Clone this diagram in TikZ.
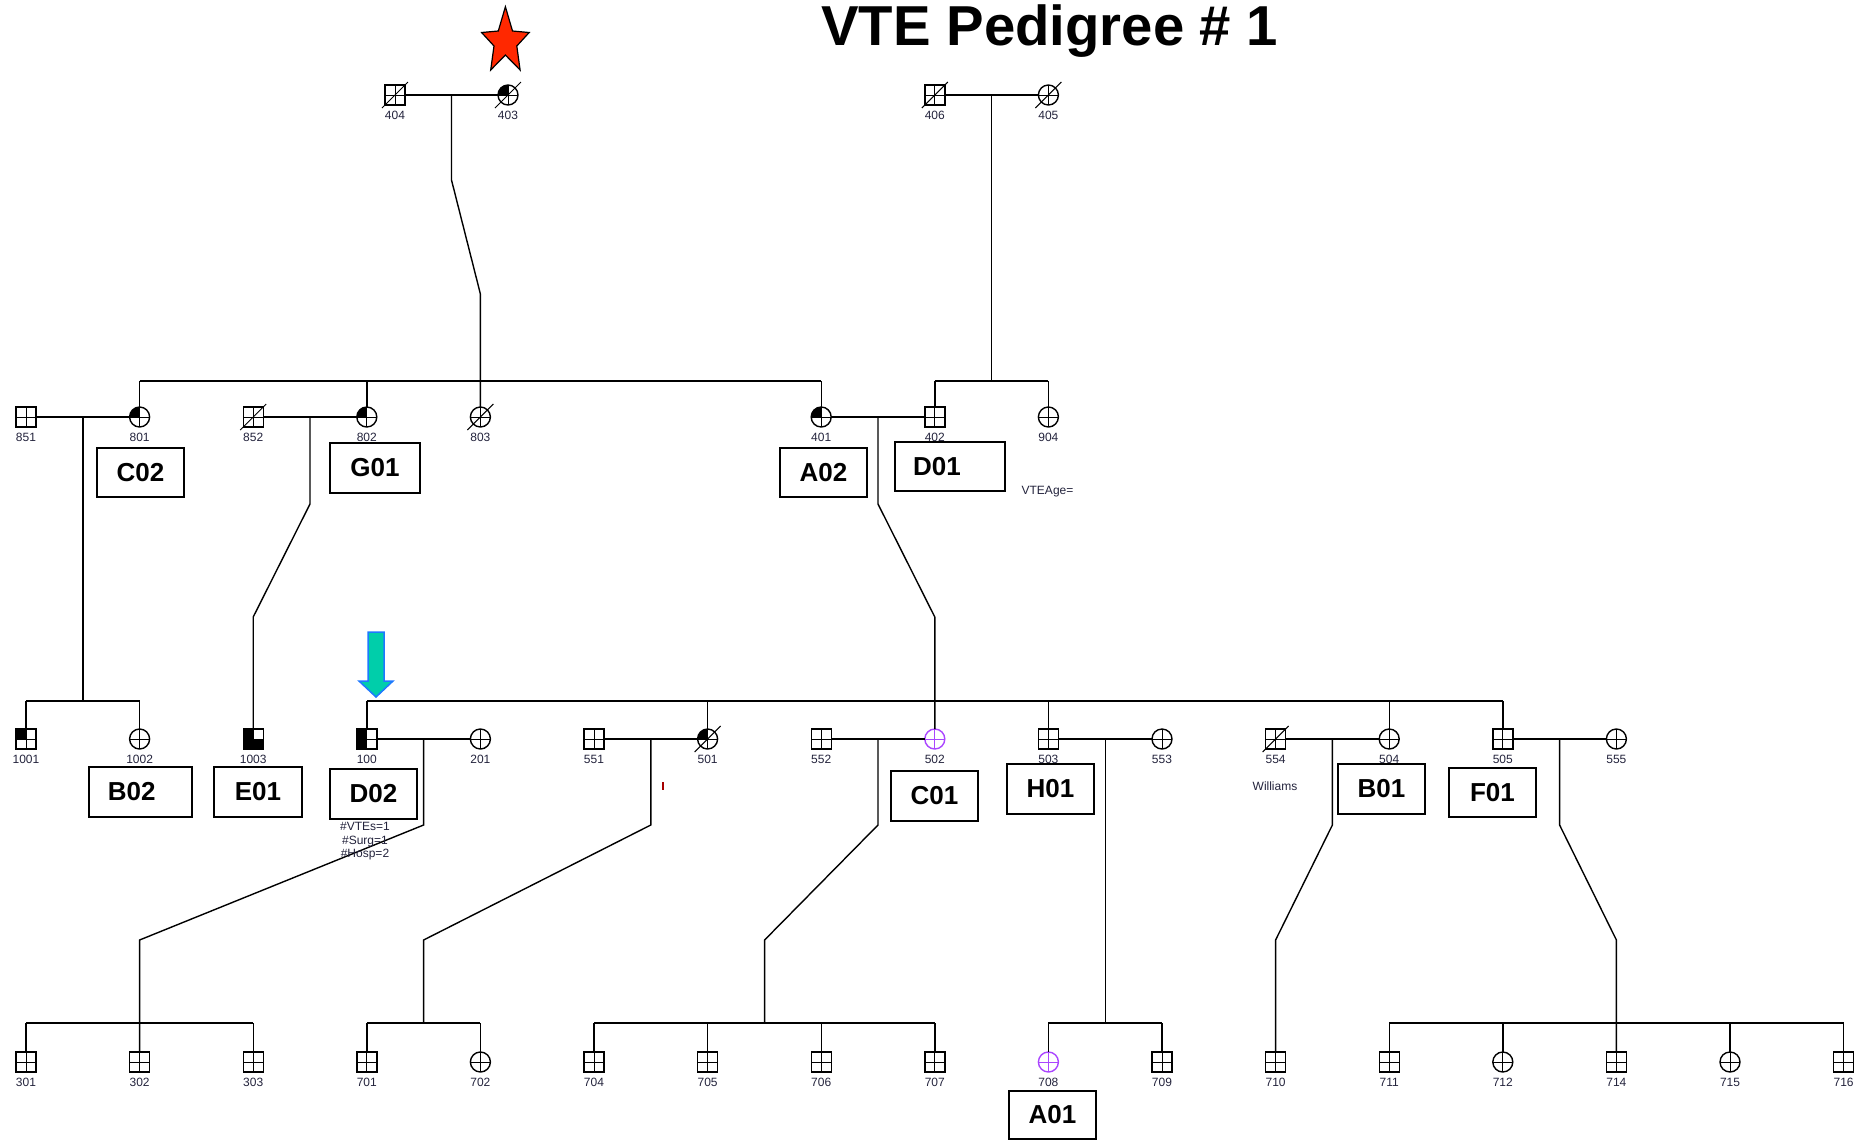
\documentclass[tikz,border=0pt]{standalone}
\usepackage{fontspec}
\setmainfont{Liberation Sans}
\definecolor{pur}{RGB}{170,70,255}
\definecolor{starred}{RGB}{255,40,0}
\definecolor{arrowfill}{RGB}{0,206,170}
\definecolor{arrowline}{RGB}{30,120,255}
\definecolor{idcol}{RGB}{35,35,60}
\newcommand\qTL{\fill (path picture bounding box.center) rectangle (path picture bounding box.north west);}
\newcommand\qBL{\fill (path picture bounding box.center) rectangle (path picture bounding box.south west);}
\newcommand\qBR{\fill (path picture bounding box.center) rectangle (path picture bounding box.south east);}
\newcommand\crossin[1]{\draw[line width=0.5pt,#1] (path picture bounding box.north) -- (path picture bounding box.south) (path picture bounding box.west) -- (path picture bounding box.east);}
\newcommand\pedsym[4]{\node[#1,label={[idl]below:#2}] (n#2) at (#3,#4) {};}
\newcommand\dec[1]{\draw[line width=0.5pt] ([shift={(-6.5pt,-6.5pt)}]#1.center) -- ([shift={(6.5pt,6.5pt)}]#1.center);}
\begin{document}
\begin{tikzpicture}[x=0.5pt,y=-0.5pt,
  label distance=2.8pt,
  sym/.style={draw, line width=0.7pt, minimum size=10pt, inner sep=0pt, outer sep=0pt},
  male/.style={sym, rectangle, path picture={#1\crossin{black}}},
  male/.default={},
  female/.style={sym, circle, path picture={#1\crossin{black}}},
  female/.default={},
  femalep/.style={sym, circle, draw=pur, path picture={\crossin{pur}}},
  idl/.style={font=\fontsize{6}{6}\selectfont, text=idcol, inner sep=0pt},
  ped/.style={line width=0.7pt},
  box/.style={draw, line width=0.8pt, minimum width=43.7pt, minimum height=25.5pt, inner sep=0pt, font=\fontsize{13}{13}\selectfont\bfseries},
  small/.style={font=\fontsize{6}{6.75}\selectfont, text=idcol, inner sep=0pt, align=center}]
\useasboundingbox (0,0) rectangle (1860,1142);

% title
\node[font=\fontsize{28.15}{30}\selectfont\bfseries, anchor=base west, inner sep=0pt] (title) at (821,45) {VTE Pedigree \# 1};

% star
\draw[fill=starred, line width=0.6pt, line join=miter]
  (505.4,6.7) -- (512.5,31) -- (529.2,32.5) -- (516.8,46) -- (520.1,70) -- (505.4,55) -- (490.7,70) -- (494,46) -- (481.6,32.5) -- (498.3,31) -- cycle;

% generation 1
\pedsym{male}{404}{395}{95}
\pedsym{female={\qTL}}{403}{508}{95}
\pedsym{male}{406}{934.8}{95}
\pedsym{female}{405}{1048.4}{95}
\dec{n404}\dec{n403}\dec{n406}\dec{n405}

% generation 2
\pedsym{male}{851}{26}{417}
\pedsym{female={\qTL}}{801}{139.6}{417}
\pedsym{male}{852}{253.2}{417}
\pedsym{female={\qTL}}{802}{366.8}{417}
\pedsym{female}{803}{480.4}{417}
\pedsym{female={\qTL}}{401}{821.2}{417}
\pedsym{male}{402}{934.8}{417}
\pedsym{female}{904}{1048.4}{417}
\dec{n852}\dec{n803}

% generation 3
\pedsym{male={\qTL}}{1001}{26}{739}
\pedsym{female}{1002}{139.6}{739}
\pedsym{male={\qTL\qBL\qBR}}{1003}{253.2}{739}
\pedsym{male={\qTL\qBL}}{100}{366.8}{739}
\pedsym{female}{201}{480.4}{739}
\pedsym{male}{551}{594}{739}
\pedsym{female={\qTL}}{501}{707.6}{739}
\pedsym{male}{552}{821.2}{739}
\pedsym{femalep}{502}{934.8}{739}
\pedsym{male}{503}{1048.4}{739}
\pedsym{female}{553}{1162}{739}
\pedsym{male}{554}{1275.6}{739}
\pedsym{female}{504}{1389.2}{739}
\pedsym{male}{505}{1502.8}{739}
\pedsym{female}{555}{1616.4}{739}
\dec{n501}\dec{n554}

% generation 4
\pedsym{male}{301}{26}{1062}
\pedsym{male}{302}{139.6}{1062}
\pedsym{male}{303}{253.2}{1062}
\pedsym{male}{701}{366.8}{1062}
\pedsym{female}{702}{480.4}{1062}
\pedsym{male}{704}{594}{1062}
\pedsym{male}{705}{707.6}{1062}
\pedsym{male}{706}{821.2}{1062}
\pedsym{male}{707}{934.8}{1062}
\pedsym{femalep}{708}{1048.4}{1062}
\pedsym{male}{709}{1162}{1062}
\pedsym{male}{710}{1275.6}{1062}
\pedsym{male}{711}{1389.2}{1062}
\pedsym{female}{712}{1502.8}{1062}
\pedsym{male}{714}{1616.4}{1062}
\pedsym{female}{715}{1730}{1062}
\pedsym{male}{716}{1843.6}{1062}

% sibship levels
\coordinate (sibA) at (0,381);
\coordinate (sibB) at (0,701);
\coordinate (sibC) at (0,1023);

% gen 1 connectors
\draw[ped] (n404) -- (n403);
\coordinate (j1) at (451.5,95);
\coordinate (j1a) at (451.5,180);
\coordinate (j1b) at (480.4,294);
\draw[ped] (j1) -- (j1a) -- (j1b) -- (n803);
\draw[ped] (n801 |- sibA) -- (n401 |- sibA);
\foreach \n in {801,802,401} \draw[ped] (n\n) -- (n\n |- sibA);

\draw[ped] (n406) -- (n405);
\coordinate (j2) at (991.6,95);
\draw[ped] (j2) -- (j2 |- sibA);
\draw[ped] (n402 |- sibA) -- (n904 |- sibA);
\foreach \n in {402,904} \draw[ped] (n\n) -- (n\n |- sibA);

% gen 2 connectors
\draw[ped] (n851) -- (n801);
\coordinate (j3) at (82.8,417);
\draw[ped] (j3) -- (j3 |- sibB);
\draw[ped] (n1001 |- sibB) -- (n1002 |- sibB);
\foreach \n in {1001,1002} \draw[ped] (n\n) -- (n\n |- sibB);

\draw[ped] (n852) -- (n802);
\coordinate (j4) at (310,417);
\coordinate (j4a) at (310,504);
\coordinate (j4b) at (253.2,617);
\draw[ped] (j4) -- (j4a) -- (j4b) -- (n1003);

\draw[ped] (n401) -- (n402);
\coordinate (j5) at (878,417);
\coordinate (j5a) at (878,504);
\coordinate (j5b) at (934.8,617);
\draw[ped] (j5) -- (j5a) -- (j5b) -- (n502);
\draw[ped] (n100 |- sibB) -- (n505 |- sibB);
\foreach \n in {100,501,503,504,505} \draw[ped] (n\n) -- (n\n |- sibB);

% gen 3 connectors
\draw[ped] (n100) -- (n201);
\coordinate (j6) at (423.6,739);
\coordinate (j6a) at (423.6,825);
\coordinate (j6b) at (139.6,940);
\draw[ped] (j6) -- (j6a) -- (j6b) -- (n302);
\draw[ped] (n301 |- sibC) -- (n303 |- sibC);
\foreach \n in {301,303} \draw[ped] (n\n) -- (n\n |- sibC);

\draw[ped] (n551) -- (n501);
\coordinate (j7) at (650.8,739);
\coordinate (j7a) at (650.8,825);
\coordinate (j7b) at (423.6,940);
\draw[ped] (j7) -- (j7a) -- (j7b) -- (j7b |- sibC);
\draw[ped] (n701 |- sibC) -- (n702 |- sibC);
\foreach \n in {701,702} \draw[ped] (n\n) -- (n\n |- sibC);

\draw[ped] (n552) -- (n502);
\coordinate (j8) at (878,739);
\coordinate (j8a) at (878,825);
\coordinate (j8b) at (764.6,940);
\draw[ped] (j8) -- (j8a) -- (j8b) -- (j8b |- sibC);
\draw[ped] (n704 |- sibC) -- (n707 |- sibC);
\foreach \n in {704,705,706,707} \draw[ped] (n\n) -- (n\n |- sibC);

\draw[ped] (n503) -- (n553);
\coordinate (j9) at (1105.2,739);
\draw[ped] (j9) -- (j9 |- sibC);
\draw[ped] (n708 |- sibC) -- (n709 |- sibC);
\foreach \n in {708,709} \draw[ped] (n\n) -- (n\n |- sibC);

\draw[ped] (n554) -- (n504);
\coordinate (j10) at (1332.4,739);
\coordinate (j10a) at (1332.4,825);
\coordinate (j10b) at (1275.6,940);
\draw[ped] (j10) -- (j10a) -- (j10b) -- (n710);

\draw[ped] (n505) -- (n555);
\coordinate (j11) at (1559.6,739);
\coordinate (j11a) at (1559.6,825);
\coordinate (j11b) at (1616.4,940);
\draw[ped] (j11) -- (j11a) -- (j11b) -- (n714);
\draw[ped] (n711 |- sibC) -- (n716 |- sibC);
\foreach \n in {711,712,715,716} \draw[ped] (n\n) -- (n\n |- sibC);

% boxes
\node[box, minimum width=43.7pt, minimum height=24.7pt] (C02) at (140.4,472.5) {C02};
\node[box, minimum width=45.2pt, minimum height=25.2pt] (G01) at (375,468) {G01};
\node[box, minimum width=43.7pt, minimum height=24.7pt] (A02) at (823.5,472.5) {A02};
\node[box, minimum width=55.2pt, minimum height=24.7pt] (D01) at (950,466.5) {\hspace*{-13pt}D01};
\node[box, minimum width=51.7pt, minimum height=25.2pt] (B02) at (140.5,792) {\hspace*{-8.8pt}B02};
\node[box, minimum width=44.2pt, minimum height=25.2pt] (E01) at (258,792) {E01};
\node[box, minimum width=43.7pt, minimum height=25.2pt] (D02) at (373.5,794) {D02};
\node[box, minimum width=43.7pt, minimum height=25.2pt] (C01) at (934.5,796) {C01};
\node[box, minimum width=43.7pt, minimum height=25.2pt] (H01) at (1050.5,789) {H01};
\node[box, minimum width=43.7pt, minimum height=25.2pt] (B01) at (1381.5,789) {B01};
\node[box, minimum width=43.7pt, minimum height=24.7pt] (F01) at (1492.5,792.5) {F01};
\node[box, minimum width=43.7pt, minimum height=24.2pt] (A01) at (1052.5,1115) {A01};

% small texts
\node[small] (stats) at (365,841.5) {\#VTEs=1\\\#Surg=1\\\#Hosp=2};
\node[small] (vteage) at (1047.5,491.7) {VTEAge=};
\node[small] (williams) at (1275,786) {Williams};
\draw[line width=0.6pt, red!65!black] (663,782) -- (663,790);

% proband arrow
\draw[fill=arrowfill, draw=arrowline, line width=0.75pt, line join=miter]
  (368,632) -- (384,632) -- (384,681) -- (393,681) -- (376,697) -- (359,681) -- (368,681) -- cycle;
\end{tikzpicture}
\end{document}
